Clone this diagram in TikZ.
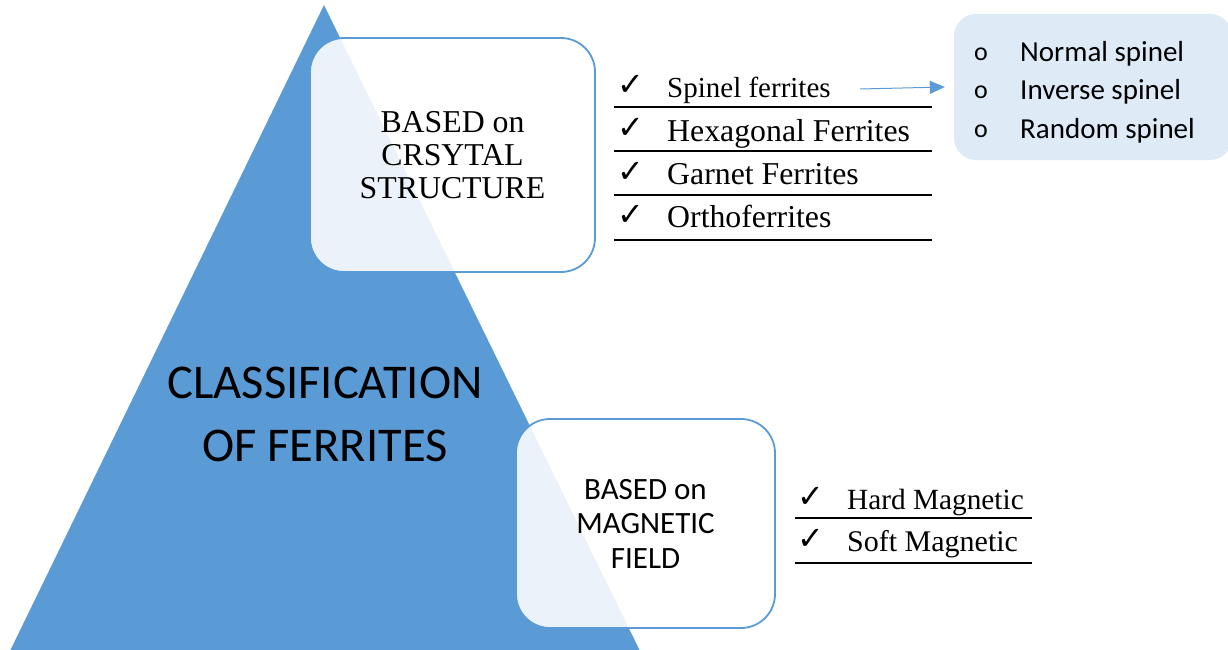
\documentclass[tikz,border=0pt]{standalone}
\usepackage{fontspec}
\setmainfont{Liberation Serif}
\newfontfamily\calib{Carlito}
\newfontfamily\symfont{DejaVu Sans}
\usetikzlibrary{arrows.meta}
\definecolor{ferblue}{HTML}{5B9BD5}
\definecolor{palebox}{HTML}{DEEBF7}
\newcommand{\fsz}[2]{\fontsize{#1}{#2}\selectfont}
\newcommand{\chk}{{\symfont\fsz{32}{32}✓}}

\tikzset{
  catbox/.style={draw=ferblue, line width=1.8pt, fill=white, fill opacity=0.88,
    text opacity=1, rounded corners=34pt, align=center, inner sep=0pt},
  listitem/.style={anchor=base west, inner sep=0pt},
  checkmk/.style={anchor=base, inner sep=0pt},
  rule/.style={line width=1.2pt, black},
  subitem/.style={anchor=base west, inner sep=0pt, font=\calib\fsz{29}{34}},
  bullet/.style={anchor=base, inner sep=0pt, font=\calib\fsz{26}{34}},
  linkarrow/.style={ferblue, line width=1pt, -{Triangle[length=15pt,width=13pt]}}
}

\begin{document}
\begin{tikzpicture}[x=1pt,y=-1pt]
\useasboundingbox (0,0) rectangle (1228,650);

% the pyramid
\coordinate (apex) at (324,5);
\coordinate (baseL) at (10,651);
\coordinate (baseR) at (640,651);
\fill[ferblue] (apex) -- (baseL) -- (baseR) -- cycle;

\node[align=center, inner sep=0pt, font=\calib\fsz{48.5}{63}] (title) at (325,414)
  {CLASSIFICATION\\OF FERRITES};

% the two categories
\node[catbox, minimum width=285pt, minimum height=234pt,
      font=\fsz{31.8}{33}] (crystal) at (452.5,155) {BASED on\\CRSYTAL\\STRUCTURE};
\node[catbox, minimum width=259pt, minimum height=209pt,
      font=\calib\fsz{31}{34.5}] (magnetic) at (645.5,523.5) {BASED on\\MAGNETIC\\FIELD};

% crystal-structure list
\node[checkmk] (c1) at (631,96) {\chk};
\node[listitem, font=\fsz{29}{32}] (spinel) at (667,98) {Spinel ferrites};
\node[checkmk] (c2) at (631,139) {\chk};
\node[listitem, font=\fsz{31.8}{32}] (hexa) at (667,141) {Hexagonal Ferrites};
\node[checkmk] (c3) at (631,182) {\chk};
\node[listitem, font=\fsz{31.8}{32}] (garnet) at (667,184) {Garnet Ferrites};
\node[checkmk] (c4) at (631,225) {\chk};
\node[listitem, font=\fsz{31.8}{32}] (ortho) at (667,227) {Orthoferrites};
\foreach \y in {107,151,195,240}
  \draw[rule] (614,\y) -- (932,\y);

% spinel sub-types
\node[fill=palebox, rounded corners=22pt, minimum width=278pt, minimum height=146pt,
      inner sep=0pt] (spinelbox) at (1093,87) {};
\node[bullet] (b1) at (981,61) {o};
\node[subitem] (n1) at (1020,62) {Normal spinel};
\node[bullet] (b2) at (981,99) {o};
\node[subitem] (n2) at (1020,100) {Inverse spinel};
\node[bullet] (b3) at (981,138) {o};
\node[subitem] (n3) at (1020,139) {Random spinel};

\coordinate (arrstart) at (860,89);
\draw[linkarrow] (arrstart) -- ([xshift=-9pt]spinelbox.west);

% magnetic-field list
\node[checkmk] (m1) at (811,507) {\chk};
\node[listitem, font=\fsz{29.3}{32}] (hard) at (847,509) {Hard Magnetic};
\node[checkmk] (m2) at (811,549) {\chk};
\node[listitem, font=\fsz{30}{32}] (soft) at (847,551) {Soft Magnetic};
\foreach \y in {518,563}
  \draw[rule] (795,\y) -- (1032,\y);
\end{tikzpicture}
\end{document}
